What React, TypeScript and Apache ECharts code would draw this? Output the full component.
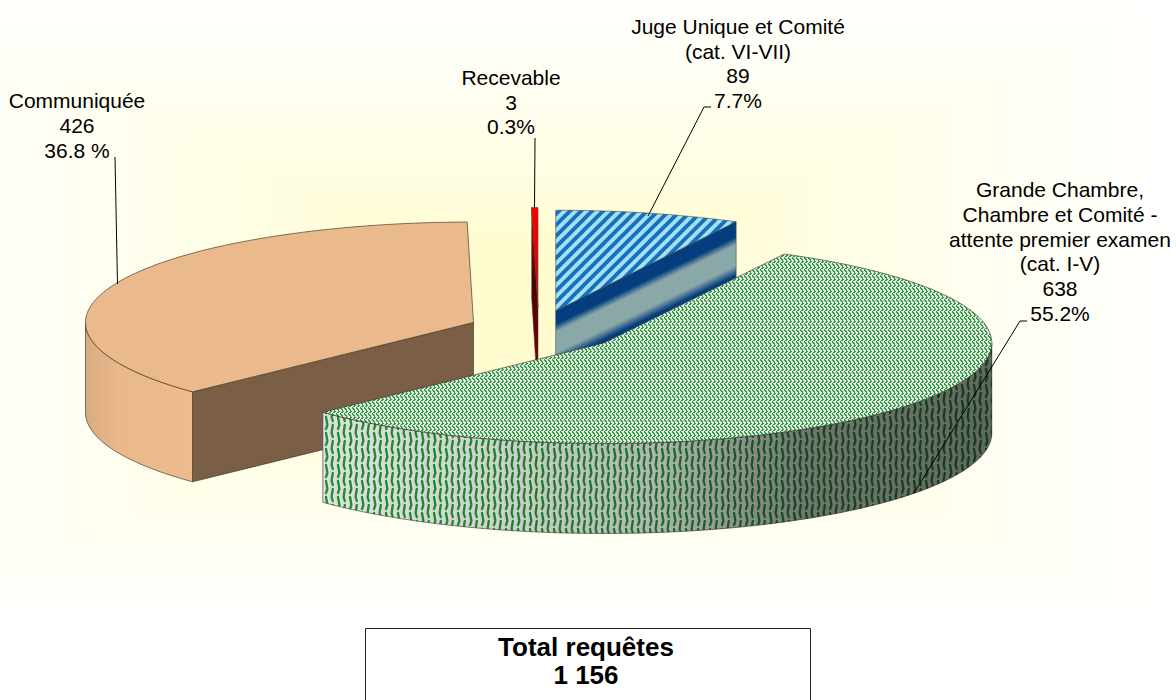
import React, { useEffect, useRef } from "react";
import * as echarts from "echarts";

// ---------- data ----------
const SEGMENTS = ["Juge Unique et Comité (cat. VI-VII)", "Grande Chambre, Chambre et Comité - attente premier examen (cat. I-V)", "Communiquée", "Recevable"];
const VALUES = [89, 638, 426, 3];
const TOTAL_TITLE = "Total requêtes";
const TOTAL_TEXT = "1 156";
const LABEL_NAMES = [
  ["Juge Unique et Comité", "(cat. VI-VII)"],
  ["Grande Chambre,", "Chambre et Comité -", "attente premier examen", "(cat. I-V)"],
  ["Communiquée"],
  ["Recevable"],
];
const LABEL_COUNTS = ["89", "638", "426", "3"];
const LABEL_PERCENTS = ["7.7%", "55.2%", "36.8 %", "0.3%"];

// ---------- layout ----------
const RX = 388;
const RY = 100.5;
const DEPTH = 90;
const CENTERS = [[555.7, 310.7], [603.8, 343], [473.5, 322.5], [538, 308]];
const DRAW_RANK = [0, 3, 2, 1];
const LABEL_POS = [[738, 63.5], [1060, 251.5], [77, 125.5], [511, 102]];
const LEADERS = [
  [[711, 107], [704, 107], [648, 216]],
  [[1027, 321], [1020, 321], [914, 493]],
  [[115, 157], [117.5, 284]],
  [[535, 138], [534.5, 208]],
];
const FONT = '"Liberation Sans", Arial, sans-serif';

// ---------- patterns ----------
function tile(w: number, h: number, draw: (c: CanvasRenderingContext2D) => void) {
  const cv = document.createElement("canvas");
  cv.width = w;
  cv.height = h;
  draw(cv.getContext("2d")!);
  return { image: cv.toDataURL(), repeat: "repeat", imageWidth: w, imageHeight: h } as any;
}
function stripes() {
  return tile(11, 11, (c) => {
    c.fillStyle = "#A4DFF2";
    c.fillRect(0, 0, 11, 11);
    c.strokeStyle = "#1570BE";
    c.lineWidth = 3.8;
    for (let k = -11; k <= 22; k += 11) {
      c.beginPath();
      c.moveTo(k - 2, 13);
      c.lineTo(k + 13, -2);
      c.stroke();
    }
  });
}
function weave() {
  const rows = ["GG..GG..", ".GG..GG.", "..G...G.", "..GG..GG", ".GG..GG.", "G...G..."];
  return tile(8, 6, (c) => {
    c.fillStyle = "#E2E6E2";
    c.fillRect(0, 0, 8, 6);
    c.fillStyle = "#2F9A3E";
    rows.forEach((r, y) => r.split("").forEach((ch, x) => ch === "G" && c.fillRect(x, y, 1, 1)));
  });
}
function zigzag() {
  return tile(12, 16, (c) => {
    c.fillStyle = "#DDE0DD";
    c.fillRect(0, 0, 12, 16);
    c.strokeStyle = "#1F8E2E";
    c.lineWidth = 2.3;
    c.lineCap = "round";
    (c as any).filter = "blur(0.4px)";
    for (const off of [-16, 0, 16]) {
      c.beginPath();
      c.moveTo(2, off + 1);
      c.lineTo(3.4, off + 9);
      c.lineTo(2, off + 13);
      c.stroke();
      c.beginPath();
      c.moveTo(8.8, off + 9);
      c.lineTo(7.6, off + 17);
      c.lineTo(8.8, off + 21);
      c.stroke();
    }
  });
}

// ---------- geometry ----------
const TOTAL = VALUES.reduce((a, b) => a + b, 0);
const ANGLES = VALUES.map((_, i) => {
  const before = VALUES.slice(0, i).reduce((a, b) => a + b, 0);
  return [(before / TOTAL) * 360, ((before + VALUES[i]) / TOTAL) * 360];
});
function rim(c: number[], deg: number, dy = 0) {
  const r = (deg * Math.PI) / 180;
  return [c[0] + RX * Math.sin(r), c[1] - RY * Math.cos(r) + dy];
}
function arc(c: number[], a: number, b: number, dy = 0) {
  const n = Math.max(2, Math.ceil(Math.abs(b - a) / 1.5));
  const pts = [];
  for (let k = 0; k <= n; k++) pts.push(rim(c, a + ((b - a) * k) / n, dy));
  return pts;
}

function buildStyles() {
  const w = weave();
  const z = zigzag();
  const edgeGreen = "rgba(50,50,50,0.75)";
  return [
    {
      top: stripes(), stroke: "rgba(60,70,70,0.7)",
      cut: new echarts.graphic.LinearGradient(555.7, 310.7, 591, 383.5, [
        { offset: 0, color: "#053E7E" }, { offset: 0.15, color: "#053E7E" }, { offset: 0.24, color: "#8AA8A8" },
        { offset: 0.47, color: "#8AA8A8" }, { offset: 0.58, color: "#053E7E" }, { offset: 1, color: "#053E7E" },
      ], true),
      wall: "#8AA8A8", overlay: null,
    },
    {
      top: w, stroke: edgeGreen, cut: "#777", wall: z,
      overlay: new echarts.graphic.LinearGradient(322, 0, 992, 0, [
        { offset: 0, color: "rgba(0,0,0,0)" }, { offset: 0.25, color: "rgba(0,0,0,0.06)" },
        { offset: 0.5, color: "rgba(0,0,0,0.2)" }, { offset: 0.72, color: "rgba(0,0,0,0.48)" },
        { offset: 1, color: "rgba(0,0,0,0.55)" },
      ], true),
    },
    {
      top: "#EBBA8C", stroke: "rgba(70,55,40,0.85)", cut: "#7A5E46",
      wall: new echarts.graphic.LinearGradient(86, 0, 193, 0, [
        { offset: 0, color: "#D9AC81" }, { offset: 0.3, color: "#E9B88B" }, { offset: 1, color: "#EDBB8D" },
      ], true),
      overlay: null,
    },
    {
      top: new echarts.graphic.LinearGradient(0, 208, 0, 308, [
        { offset: 0, color: "#FF0000" }, { offset: 1, color: "#D00000" },
      ], true),
      stroke: "rgba(80,60,60,0.7)",
      cut: new echarts.graphic.LinearGradient(0, 208, 0, 398, [
        { offset: 0, color: "#D00000" }, { offset: 0.4, color: "#4A0000" }, { offset: 1, color: "#8A0000" },
      ], true),
      wall: "#700000", overlay: null,
    },
  ];
}

function backgroundRects() {
  const n = 64;
  const out: any[] = [];
  const cx = 540, cy = 310, hw = 640, hh = 320;
  for (let k = 0; k < n; k++) {
    const t = 1 - k / n;
    const mix = Math.min(1, Math.max(0, (t - 0.25) / 0.75));
    const g = Math.round(253 + (255 - 253) * mix);
    const b = Math.round(208 + (255 - 208) * Math.pow(mix, 0.7));
    out.push({
      type: "rect",
      silent: true,
      shape: { x: cx - hw * t, y: cy - hh * t, width: 2 * hw * t, height: 2 * hh * t },
      style: { fill: `rgb(255,${g},${b})` },
    });
  }
  return out;
}

export default function App() {
  const ref = useRef<HTMLDivElement>(null);
  useEffect(() => {
    const chart = echarts.init(ref.current!, undefined, { renderer: "svg" });
    const styles = buildStyles();

    const renderSlice = (params: any) => {
      const i = params.dataIndex;
      const [t0, t1] = ANGLES[i];
      const c = CENTERS[i];
      const s = styles[i];
      const z2 = DRAW_RANK[i] * 10;
      const line = { stroke: s.stroke, lineWidth: 0.8 };
      const kids: any[] = [];
      const face = (edgeAngle: number) => {
        const p = rim(c, edgeAngle);
        kids.push({
          type: "polygon", z2,
          shape: { points: [p, c, [c[0], c[1] + DEPTH], [p[0], p[1] + DEPTH]] },
          style: { fill: s.cut, ...line },
        });
      };
      if (t0 > 180 && t0 < 360) face(t0);
      if (t1 > 0 && t1 < 180) face(t1);
      const w0 = Math.max(t0, 90), w1 = Math.min(t1, 270);
      if (w1 > w0) {
        const pts = [...arc(c, w0, w1), ...arc(c, w1, w0, DEPTH)];
        kids.push({ type: "polygon", z2: z2 + 1, shape: { points: pts }, style: { fill: s.wall, ...line } });
        if (s.overlay) kids.push({ type: "polygon", z2: z2 + 2, shape: { points: pts }, style: { fill: s.overlay } });
      }
      kids.push({
        type: "polygon", z2: z2 + 3,
        shape: { points: [c, ...arc(c, t0, t1)] },
        style: { fill: s.top, ...line },
      });
      return { type: "group", children: kids };
    };

    const renderLabel = (params: any) => {
      const i = params.dataIndex;
      const lines = [...LABEL_NAMES[i], LABEL_COUNTS[i], LABEL_PERCENTS[i]];
      return {
        type: "group",
        children: [
          { type: "polyline", shape: { points: LEADERS[i] }, style: { stroke: "#000", lineWidth: 1, fill: "none" } },
          {
            type: "text", x: LABEL_POS[i][0], y: LABEL_POS[i][1],
            style: {
              text: lines.join("\n"), font: `21px ${FONT}`, fill: "#000",
              textAlign: "center", textVerticalAlign: "middle", lineHeight: 24.7,
            },
          },
        ],
      };
    };

    chart.setOption({
      animation: false,
      backgroundColor: "#fff",
      graphic: {
        elements: [
          ...backgroundRects(),
          {
            type: "rect", silent: true,
            shape: { x: 365.5, y: 628.5, width: 445, height: 90 },
            style: { fill: "#fff", stroke: "#222", lineWidth: 1 },
          },
          {
            type: "text", x: 586, y: 661,
            style: {
              text: `${TOTAL_TITLE}\n${TOTAL_TEXT}`, font: `bold 26px ${FONT}`, fill: "#000",
              textAlign: "center", textVerticalAlign: "middle", lineHeight: 28,
            },
          },
        ],
      },
      series: [
        {
          type: "custom", coordinateSystem: "none", silent: true, z: 2,
          name: "Requêtes",
          data: VALUES.map((v, i) => ({ name: SEGMENTS[i], value: [v] })),
          renderItem: renderSlice,
        },
        {
          type: "custom", coordinateSystem: "none", silent: true, z: 3,
          data: VALUES.map((v, i) => ({ name: SEGMENTS[i], value: [v] })),
          renderItem: renderLabel,
        },
      ],
    });
    return () => chart.dispose();
  }, []);
  return <div ref={ref} style={{ position: "fixed", left: 0, top: 0, width: 1176, height: 700 }} />;
}
